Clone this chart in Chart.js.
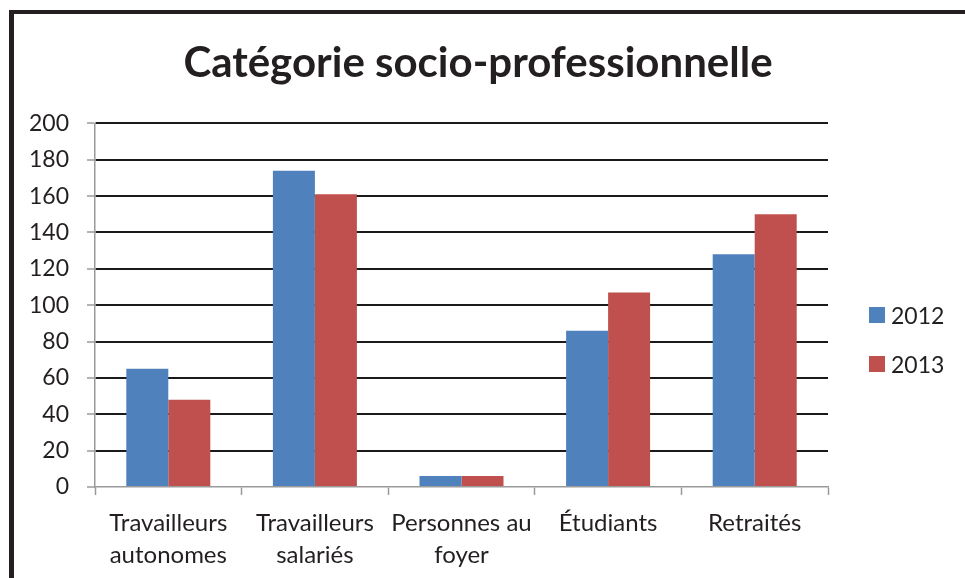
<!DOCTYPE html>
<html>
<head>
<meta charset="utf-8">
<script src="https://cdn.jsdelivr.net/npm/chart.js@4/dist/chart.umd.min.js"></script>
<style>
  html, body { margin: 0; padding: 0; background: #fff; }
  #wrap { position: relative; width: 965px; height: 578px; overflow: hidden; background: #fff; }
  #frame { position: absolute; left: 9px; top: 10px; width: 1000px; height: 600px;
           border-left: 5px solid #231f20; border-top: 4px solid #231f20; box-sizing: border-box; }
  #c { position: absolute; left: 0; top: 0; }
  #legend { position: absolute; left: 869px; top: 0; font-family: Lato, sans-serif; font-size: 23px; color: #231f20; }
  .item { position: absolute; left: 0; white-space: nowrap; height: 24px; display: flex; align-items: center; }
  .sw { width: 16px; height: 16px; margin-right: 6px; }
</style>
</head>
<body>
<div id="wrap">
  <div id="frame"></div>
  <canvas id="c" width="965" height="578"></canvas>
  <div id="legend"></div>
</div>
<script>
const titleText = "Catégorie socio-professionnelle";
const categories = [
  ["Travailleurs", "autonomes"],
  ["Travailleurs", "salariés"],
  ["Personnes au", "foyer"],
  ["Étudiants"],
  ["Retraités"]
];
const seriesNames = ["2012", "2013"];
const values2012 = [65, 174, 6, 86, 128];
const values2013 = [48, 161, 6, 107, 150];
const colors = ["#4f81bd", "#c0504d"];
const yMin = 0, yMax = 200, yStep = 20;

const textColor = "#231f20";
const axisGrey = "#9a9a9a";

const datasets = [values2012, values2013].map((vals, i) => ({
  label: seriesNames[i],
  data: vals,
  backgroundColor: colors[i],
  borderWidth: 0,
  categoryPercentage: 0.573,
  barPercentage: 1.0
}));

new Chart(document.getElementById("c"), {
  type: "bar",
  data: { labels: categories, datasets },
  options: {
    responsive: false,
    animation: false,
    devicePixelRatio: 1,
    layout: { padding: { left: 0, right: 9, top: 0, bottom: 0 } },
    plugins: {
      legend: { display: false },
      tooltip: { enabled: false },
      title: {
        display: true,
        text: titleText,
        color: textColor,
        font: { family: "Lato", size: 42, weight: "bold", lineHeight: 1.2 },
        padding: { top: 38, bottom: 35 }
      }
    },
    scales: {
      x: {
        grid: { display: true, drawOnChartArea: false, drawTicks: true, tickLength: 8, tickColor: axisGrey, tickWidth: 1.5, offset: true },
        border: { display: true, color: axisGrey, width: 1.5 },
        ticks: { color: textColor, font: { family: "Lato", size: 24, lineHeight: 1.33 }, padding: 12, maxRotation: 0, autoSkip: false },
        afterFit(s) { s.height = 91; }
      },
      y: {
        min: yMin, max: yMax,
        grid: {
          color: (ctx) => (ctx.tick && ctx.tick.value === 0) ? "rgba(0,0,0,0)" : "#1a1a1a",
          lineWidth: 2,
          tickLength: 8,
          tickColor: axisGrey,
          tickWidth: 1.5
        },
        border: { display: true, color: axisGrey, width: 1.5 },
        ticks: { stepSize: yStep, color: textColor, font: { family: "Lato", size: 23 }, padding: 18 },
        afterFit(s) { s.width = 95; }
      },
      yRight: {
        type: "linear",
        position: "right",
        display: true,
        grid: { display: false, drawTicks: false },
        border: { display: false },
        ticks: { display: false },
        afterFit(s) { s.width = 128; }
      }
    }
  }
});

// HTML legend built from the series arrays
const legendEl = document.getElementById("legend");
const legendTops = [303, 352];
seriesNames.forEach((name, i) => {
  const it = document.createElement("div");
  it.className = "item";
  it.style.top = legendTops[i] + "px";
  const sw = document.createElement("span");
  sw.className = "sw";
  sw.style.background = colors[i];
  const tx = document.createElement("span");
  tx.textContent = name;
  it.appendChild(sw);
  it.appendChild(tx);
  legendEl.appendChild(it);
});
</script>
</body>
</html>
